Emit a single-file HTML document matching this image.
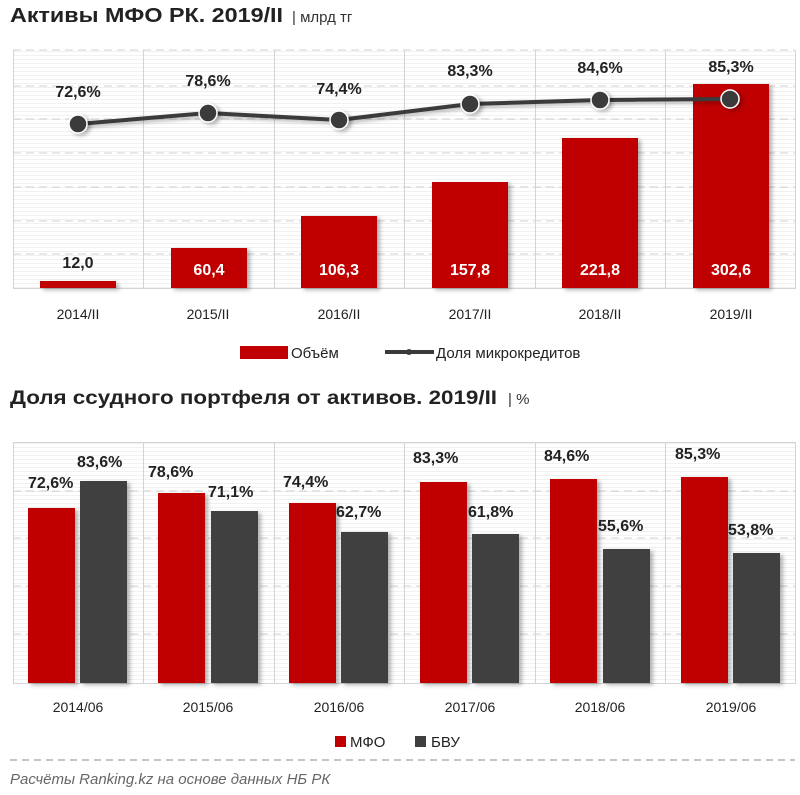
<!DOCTYPE html>
<html><head><meta charset="utf-8"><style>
body{margin:0;background:#fff;}
svg{display:block;font-family:"Liberation Sans","DejaVu Sans",sans-serif;}
</style></head><body>
<svg width="800" height="795" viewBox="0 0 800 795" xmlns="http://www.w3.org/2000/svg">
<defs>
<pattern id="st" width="10" height="4" patternUnits="userSpaceOnUse"><rect width="10" height="4" fill="#fff"/><rect y="3" width="10" height="1" fill="#f1f1f1"/></pattern>
<filter id="sh" x="-20%" y="-20%" width="150%" height="150%"><feDropShadow dx="3" dy="2" stdDeviation="2" flood-color="#000" flood-opacity="0.3"/></filter>
</defs>
<text x="10" y="22" font-size="20" font-weight="bold" fill="#222" textLength="273" lengthAdjust="spacingAndGlyphs">Активы МФО РК. 2019/II</text>
<text x="292" y="22" font-size="15" fill="#333">| млрд тг</text>

<!-- chart 1 -->
<rect x="13" y="50" width="782" height="238" fill="url(#st)"/>
<g stroke="#d0d0d0" stroke-dasharray="8,5" stroke-width="1">
<line x1="13" x2="795" y1="50" y2="50"/><line x1="13" x2="795" y1="86" y2="86"/><line x1="13" x2="795" y1="119" y2="119"/><line x1="13" x2="795" y1="153" y2="153"/><line x1="13" x2="795" y1="187" y2="187"/><line x1="13" x2="795" y1="221" y2="221"/><line x1="13" x2="795" y1="254" y2="254"/>
</g>
<g stroke="#d4d4d4" stroke-width="1">
<line x1="13.5" x2="13.5" y1="50" y2="288"/><line x1="143.5" x2="143.5" y1="50" y2="288"/><line x1="274.5" x2="274.5" y1="50" y2="288"/><line x1="404.5" x2="404.5" y1="50" y2="288"/><line x1="535.5" x2="535.5" y1="50" y2="288"/><line x1="665.5" x2="665.5" y1="50" y2="288"/><line x1="795.5" x2="795.5" y1="50" y2="288"/>
<line x1="13" x2="796" y1="288.5" y2="288.5"/>
</g>
<g fill="#c00000" filter="url(#sh)">
<rect x="40" y="281" width="76" height="7"/>
<rect x="171" y="248" width="76" height="40"/>
<rect x="301" y="216" width="76" height="72"/>
<rect x="432" y="182" width="76" height="106"/>
<rect x="562" y="138" width="76" height="150"/>
<rect x="693" y="84" width="76" height="204"/>
</g>
<g font-size="16" font-weight="bold" text-anchor="middle">
<text x="78" y="268" fill="#222">12,0</text>
<text x="209" y="275" fill="#fff">60,4</text>
<text x="339" y="275" fill="#fff">106,3</text>
<text x="470" y="275" fill="#fff">157,8</text>
<text x="600" y="275" fill="#fff">221,8</text>
<text x="731" y="275" fill="#fff">302,6</text>
</g>
<polyline points="78,124 208,113 339,120 470,104 600,100 730,99" fill="none" stroke="#3a3a3a" stroke-width="4" filter="url(#sh)"/>
<g fill="#3a3a3a" stroke="#fff" stroke-width="1.5" filter="url(#sh)">
<circle cx="78" cy="124" r="9"/><circle cx="208" cy="113" r="9"/><circle cx="339" cy="120" r="9"/><circle cx="470" cy="104" r="9"/><circle cx="600" cy="100" r="9"/><circle cx="730" cy="99" r="9"/>
</g>
<g font-size="16" font-weight="bold" text-anchor="middle" fill="#222">
<text x="78" y="97">72,6%</text><text x="208" y="86">78,6%</text><text x="339" y="94">74,4%</text><text x="470" y="76">83,3%</text><text x="600" y="73">84,6%</text><text x="731" y="72">85,3%</text>
</g>
<g font-size="14" text-anchor="middle" fill="#222">
<text x="78" y="319">2014/II</text><text x="208" y="319">2015/II</text><text x="339" y="319">2016/II</text><text x="470" y="319">2017/II</text><text x="600" y="319">2018/II</text><text x="731" y="319">2019/II</text>
</g>
<rect x="240" y="346" width="48" height="13" fill="#c00000"/>
<text x="291" y="358" font-size="15" fill="#222">Объём</text>
<line x1="385" x2="434" y1="352" y2="352" stroke="#3a3a3a" stroke-width="4"/>
<circle cx="409" cy="352" r="3" fill="#3a3a3a"/>
<text x="436" y="358" font-size="15" fill="#222">Доля микрокредитов</text>

<text x="10" y="404" font-size="19" font-weight="bold" fill="#222" textLength="487" lengthAdjust="spacingAndGlyphs">Доля ссудного портфеля от активов. 2019/II</text>
<text x="508" y="404" font-size="15" fill="#333">| %</text>

<!-- chart 2 -->
<rect x="13" y="442" width="782" height="241" fill="url(#st)"/>
<g stroke="#d0d0d0" stroke-dasharray="8,5" stroke-width="1">
<line x1="13" x2="795" y1="491" y2="491"/><line x1="13" x2="795" y1="538" y2="538"/><line x1="13" x2="795" y1="586" y2="586"/><line x1="13" x2="795" y1="634" y2="634"/>
</g>
<g stroke="#d4d4d4" stroke-width="1">
<line x1="13" x2="796" y1="442.5" y2="442.5"/>
<line x1="13.5" x2="13.5" y1="442" y2="683"/><line x1="143.5" x2="143.5" y1="442" y2="683"/><line x1="274.5" x2="274.5" y1="442" y2="683"/><line x1="404.5" x2="404.5" y1="442" y2="683"/><line x1="535.5" x2="535.5" y1="442" y2="683"/><line x1="665.5" x2="665.5" y1="442" y2="683"/><line x1="795.5" x2="795.5" y1="442" y2="683"/>
<line x1="13" x2="796" y1="683.5" y2="683.5"/>
</g>
<g filter="url(#sh)">
<g fill="#c00000">
<rect x="28" y="508" width="47" height="175"/>
<rect x="158" y="493" width="47" height="190"/>
<rect x="289" y="503" width="47" height="180"/>
<rect x="420" y="482" width="47" height="201"/>
<rect x="550" y="479" width="47" height="204"/>
<rect x="681" y="477" width="47" height="206"/>
</g>
<g fill="#3f3f3f">
<rect x="80" y="481" width="47" height="202"/>
<rect x="211" y="511" width="47" height="172"/>
<rect x="341" y="532" width="47" height="151"/>
<rect x="472" y="534" width="47" height="149"/>
<rect x="603" y="549" width="47" height="134"/>
<rect x="733" y="553" width="47" height="130"/>
</g>
</g>
<g font-size="16" font-weight="bold" fill="#222">
<text x="28" y="488">72,6%</text><text x="77" y="467">83,6%</text>
<text x="148" y="477">78,6%</text><text x="208" y="497">71,1%</text>
<text x="283" y="487">74,4%</text><text x="336" y="517">62,7%</text>
<text x="413" y="463">83,3%</text><text x="468" y="517">61,8%</text>
<text x="544" y="461">84,6%</text><text x="598" y="531">55,6%</text>
<text x="675" y="459">85,3%</text><text x="728" y="535">53,8%</text>
</g>
<g font-size="14" text-anchor="middle" fill="#222">
<text x="78" y="712">2014/06</text><text x="208" y="712">2015/06</text><text x="339" y="712">2016/06</text><text x="470" y="712">2017/06</text><text x="600" y="712">2018/06</text><text x="731" y="712">2019/06</text>
</g>
<rect x="335" y="736" width="11" height="11" fill="#c00000"/>
<text x="350" y="747" font-size="15" fill="#222">МФО</text>
<rect x="415" y="736" width="11" height="11" fill="#3f3f3f"/>
<text x="431" y="747" font-size="15" fill="#222">БВУ</text>
<line x1="10" x2="795" y1="760" y2="760" stroke="#888" stroke-dasharray="7,5"/>
<text x="10" y="784" font-size="15" font-style="italic" fill="#666">Расчёты Ranking.kz на основе данных  НБ РК</text>
</svg>
</body></html>
